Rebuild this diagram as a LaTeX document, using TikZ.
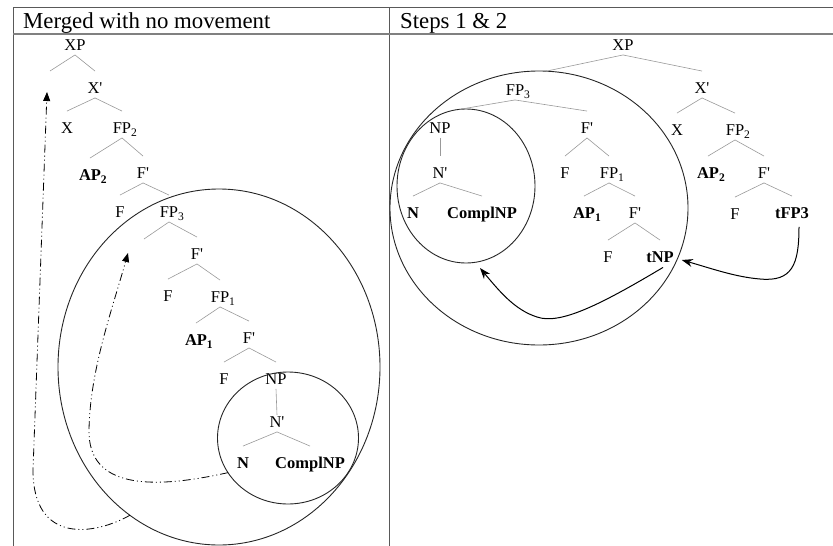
\documentclass[tikz,border=0pt]{standalone}
\usepackage{fontspec}
\setmainfont{Liberation Serif}
\usetikzlibrary{shapes.geometric,arrows.meta}
\newcommand\tbr[2]{\draw[br] ([yshift=-4.5pt]#1.south) -- ([yshift=11.5pt]#2.north);}
\newcommand\sub[1]{\rlap{\textsubscript{#1}}}
\newcommand\pr{\textquotesingle}
\begin{document}
\begin{tikzpicture}[x=1pt,y=-1pt,
  lab/.style={inner sep=0pt,outer sep=0pt,text height=10.9pt,text depth=0pt,font=\fontsize{16.5}{18}\selectfont},
  bl/.style={lab,font=\fontsize{16.5}{18}\selectfont\bfseries},
  br/.style={draw=black!40,line width=0.6pt},
  ring/.style={draw=black!85,line width=0.9pt,ellipse,inner sep=0pt,outer sep=0pt},
  dd/.style={draw=black,line width=0.8pt,dash pattern=on 8pt off 3pt on 1pt off 3pt on 1pt off 3pt,-{Triangle[length=9pt,width=7pt]}},
  mv/.style={draw=black,line width=1pt,-{Stealth[length=11pt,width=8pt]}},
  frame/.style={draw=black!65,line width=1pt},
  hsep/.style={draw=black!50,line width=1.8pt},
  hd/.style={font=\fontsize{22.8}{24}\selectfont,inner sep=0pt,anchor=base west}
]
\useasboundingbox (0,0) rectangle (833,546);
% frame
\draw[frame] (13,546) -- (13,7) -- (833,7);
\draw[frame] (389,7) -- (389,546);
\draw[hsep] (13,34) -- (833,34);
\node[hd] (h1) at (23,28.5) {Merged with no movement};
\node[hd] (h2) at (400,28.5) {Steps 1 \& 2};
% ---------- left tree
\node[lab] (xp) at (75,45) {XP};
\coordinate (xpspec) at (50,71);
\node[lab] (xb) at (95,88) {X\pr};
\node[lab] (x) at (67,128) {X};
\node[lab] (fp2) at (122,128) {FP\sub{2}};
\node[bl] (ap2) at (90,175) {AP\sub{2}};
\node[lab] (fb2) at (143,173) {F\pr};
\node[lab] (f2) at (120,212) {F};
\node[lab] (fp3) at (169,212) {FP\sub{3}};
\coordinate (fp3spec) at (144,239);
\node[lab] (fb3) at (197,254) {F\pr};
\node[lab] (f3) at (168,296) {F};
\node[lab] (fp1) at (220,297) {FP\sub{1}};
\node[bl] (ap1) at (196,340) {AP\sub{1}};
\node[lab] (fb1) at (249,338) {F\pr};
\node[lab] (f1) at (224,379) {F};
\node[lab] (np) at (276,379) {NP};
\node[lab] (nb) at (277,422) {N\pr};
\node[bl] (n) at (243,463) {N};
\node[bl] (compl) at (310,463) {ComplNP};
\draw[br] ([yshift=-4.5pt]xp.south) -- (xpspec);
\tbr{xp}{xb}
\tbr{xb}{x} \tbr{xb}{fp2}
\tbr{fp2}{ap2} \tbr{fp2}{fb2}
\tbr{fb2}{f2} \tbr{fb2}{fp3}
\draw[br] ([yshift=-4.5pt]fp3.south) -- (fp3spec);
\tbr{fp3}{fb3}
\tbr{fb3}{f3} \tbr{fb3}{fp1}
\tbr{fp1}{ap1} \tbr{fp1}{fb1}
\tbr{fb1}{f1} \tbr{fb1}{np}
\draw[br] ([yshift=-4.5pt]np.south) -- ([yshift=1.5pt]nb.north);
\tbr{nb}{n} \tbr{nb}{compl}
\node[ring,minimum width=322pt,minimum height=356pt] (bigL) at (219,367) {};
\node[ring,minimum width=141pt,minimum height=132pt] (smL) at (288,438) {};
\coordinate (tipO) at (47,92);
\coordinate (tipI) at (128,253);
\draw[dd] (bigL.239) .. controls (95,535) and (33,545) .. (33,470) -- (tipO);
\draw[dd] (smL.210) .. controls (150,490) and (88,488) .. (89,430) .. controls (90,370) and (112,310) .. (tipI);
% ---------- right tree
\node[ring,minimum width=298pt,minimum height=274pt] (bigR) at (539,208) {};
\node[ring,minimum width=138pt,minimum height=154pt] (smR) at (466,186) {};
\node[lab] (rxp) at (623,45) {XP};
\node[lab] (rfp3) at (515,90) {FP\sub{3}};
\node[lab] (rnp) at (440,128) {NP};
\node[lab] (rnb) at (440,173) {N\pr};
\node[bl] (rn) at (413,213) {N};
\node[bl] (rcompl) at (482,213) {ComplNP};
\node[lab] (rfb3) at (587,128) {F\pr};
\node[lab] (rf3) at (565,173) {F};
\node[lab] (rfp1) at (609,173) {FP\sub{1}};
\node[bl] (rap1) at (584,213) {AP\sub{1}};
\node[lab] (rfb1) at (635,213) {F\pr};
\node[lab] (rf1) at (608,257) {F};
\node[bl] (rtnp) at (660,257) {tNP};
\node[lab] (rxb) at (702,88) {X\pr};
\node[lab] (rx) at (677,130) {X};
\node[lab] (rfp2) at (735,130) {FP\sub{2}};
\node[bl] (rap2) at (708,173) {AP\sub{2}};
\node[lab] (rfb2) at (764,173) {F\pr};
\node[lab] (rf2) at (735,214) {F};
\node[bl] (rtfp3) at (792,213) {tFP3};
\draw[br] ([yshift=-4.5pt]rxp.south) -- (bigR.87);
\tbr{rxp}{rxb}
\tbr{rxb}{rx} \tbr{rxb}{rfp2}
\tbr{rfp2}{rap2} \tbr{rfp2}{rfb2}
\tbr{rfb2}{rf2} \tbr{rfb2}{rtfp3}
\draw[br] ([yshift=-4.5pt]rfp3.south) -- (smR.95);
\tbr{rfp3}{rfb3}
\draw[br] ([yshift=-4.5pt]rnp.south) -- ([yshift=11.5pt]rnb.north);
\tbr{rnb}{rn} \tbr{rnb}{rcompl}
\tbr{rfb3}{rf3} \tbr{rfb3}{rfp1}
\tbr{rfp1}{rap1} \tbr{rfp1}{rfb1}
\tbr{rfb1}{rf1} \tbr{rfb1}{rtnp}
\coordinate (tipA) at (480,268);
\draw[mv] ([xshift=3pt,yshift=-5pt]rtnp.south) .. controls (600,305) and (560,325) .. (537,317) .. controls (515,310) and (500,292) .. (tipA);
\draw[mv] ([xshift=7pt,yshift=-8.5pt]rtfp3.south) .. controls (799,265) and (792,282) .. (760,279) .. controls (735,277) and (710,268) .. ([xshift=8pt,yshift=-3pt]rtnp.east);
\end{tikzpicture}
\end{document}
